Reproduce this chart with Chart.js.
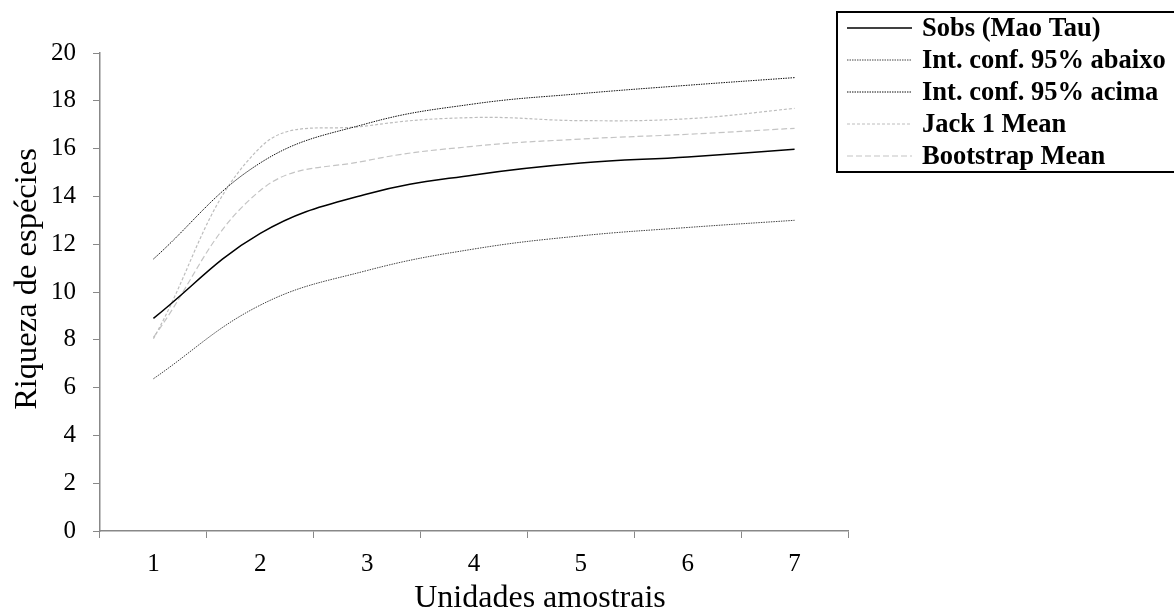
<!DOCTYPE html>
<html>
<head>
<meta charset="utf-8">
<script src="https://cdn.jsdelivr.net/npm/chart.js@4.4.1/dist/chart.umd.min.js"></script>
<style>
  html, body { margin: 0; padding: 0; background: #fff; }
  #wrap { width: 1174px; height: 612px; position: relative; }
</style>
</head>
<body>
<div id="wrap"><canvas id="curvas"></canvas></div>
<script>
// dados
const unidades = ['1', '2', '3', '4', '5', '6', '7'];
const sobs = [8.9, 12.45, 14.1, 14.9, 15.4, 15.65, 15.97];
const icAbaixo = [6.37, 9.45, 10.9, 11.8, 12.35, 12.7, 13.0];
const icAcima = [11.38, 15.4, 17.05, 17.87, 18.3, 18.65, 18.97];
const jack1 = [8.05, 16.05, 16.95, 17.3, 17.17, 17.25, 17.68];
const bootstrap = [8.1, 14.25, 15.5, 16.1, 16.4, 16.6, 16.85];

const tituloX = 'Unidades amostrais';
const tituloY = 'Riqueza de espécies';

const serif = "'Liberation Serif', 'Times New Roman', serif";

// títulos dos eixos (no original estão deslocados do centro do gráfico)
const titulosEixos = {
    id: 'titulosEixos',
    afterDraw(chart) {
        const c = chart.ctx;
        c.save();
        c.fillStyle = '#000';
        c.font = '32px ' + serif;
        c.textAlign = 'center';
        c.textBaseline = 'alphabetic';
        c.fillText(tituloX, 540, 607);
        c.translate(36, 279);
        c.rotate(-Math.PI / 2);
        c.font = '32.5px ' + serif;
        c.fillText(tituloY, 0, 0);
        c.restore();
    }
};

// legenda desenhada à mão (caixa com borda no canto superior direito)
const legendaCaixa = {
    id: 'legendaCaixa',
    afterDraw(chart) {
        const c = chart.ctx;
        const x0 = 837, y0 = 12, w = 345, h = 160;
        c.save();
        c.lineWidth = 2;
        c.strokeStyle = '#000';
        c.strokeRect(x0, y0, w, h);
        c.font = 'bold 26.5px ' + serif;
        c.textBaseline = 'middle';
        chart.data.datasets.forEach((ds, i) => {
            const y = 28 + i * 32;
            c.beginPath();
            c.setLineDash(ds.borderDash || []);
            c.lineWidth = ds.borderWidth;
            c.strokeStyle = ds.borderColor;
            c.moveTo(847, y);
            c.lineTo(912, y);
            c.stroke();
            c.setLineDash([]);
            c.fillStyle = '#000';
            c.fillText(ds.label, 922, y + 1);
        });
        c.restore();
    }
};

new Chart(document.getElementById('curvas'), {
    type: 'line',
    data: {
        labels: unidades,
        datasets: [
            { label: 'Sobs (Mao Tau)', data: sobs, borderColor: '#000', borderWidth: 1.5 },
            { label: 'Int. conf. 95% abaixo', data: icAbaixo, borderColor: '#444', borderWidth: 1, borderDash: [1.5, 1] },
            { label: 'Int. conf. 95% acima', data: icAcima, borderColor: '#111', borderWidth: 1, borderDash: [1.5, 1] },
            { label: 'Jack 1 Mean', data: jack1, borderColor: '#bdbdbd', borderWidth: 1.2, borderDash: [3, 2] },
            { label: 'Bootstrap Mean', data: bootstrap, borderColor: '#c4c4c4', borderWidth: 1.2, borderDash: [6, 3] }
        ]
    },
    options: {
        responsive: true,
        maintainAspectRatio: false,
        animation: false,
        elements: {
            line: { tension: 0.4, fill: false },
            point: { radius: 0 }
        },
        layout: { padding: { top: 53, right: 326, left: 34, bottom: 22 } },
        scales: {
            x: {
                offset: true,
                grid: { offset: true, drawOnChartArea: false, drawTicks: true, tickLength: 7, color: '#888' },
                border: { color: '#888', width: 1.5 },
                ticks: { color: '#000', font: { family: serif, size: 25 }, padding: 11 }
            },
            y: {
                min: 0,
                max: 20,
                ticks: { stepSize: 2, color: '#000', font: { family: serif, size: 25 }, padding: 17 },
                grid: { drawOnChartArea: false, drawTicks: true, tickLength: 7, color: '#888' },
                border: { color: '#888', width: 1.5 }
            }
        },
        plugins: {
            legend: { display: false },
            tooltip: { enabled: false }
        }
    },
    plugins: [titulosEixos, legendaCaixa]
});
</script>
</body>
</html>
